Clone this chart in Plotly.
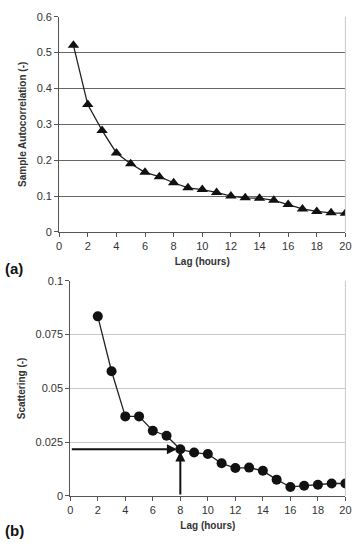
import plotly.graph_objects as go

lag_a = list(range(1, 21))
acf = [0.52, 0.355, 0.283, 0.22, 0.19, 0.166, 0.154, 0.137, 0.123, 0.118,
       0.11, 0.1, 0.095, 0.094, 0.088, 0.076, 0.064, 0.057, 0.053, 0.052]
lag_b = list(range(2, 21))
scat = [0.0835, 0.058, 0.037, 0.037, 0.0303, 0.028, 0.0217, 0.0202, 0.0195, 0.0152,
        0.013, 0.0132, 0.0117, 0.0076, 0.0042, 0.0048, 0.0052, 0.0058, 0.0058]
x_ticks = list(range(0, 21, 2))
ya_ticks = [0, 0.1, 0.2, 0.3, 0.4, 0.5, 0.6]
yb_ticks = [0, 0.025, 0.05, 0.075, 0.1]
yb_labels = ["0", "0.025", "0.05", "0.075", "0.1"]
sel_lag, sel_val = 8, 0.0217

FONT = "Liberation Sans, Arial, sans-serif"
fig = go.Figure()
fig.add_trace(go.Scatter(x=lag_a, y=acf, mode="lines+markers", xaxis="x", yaxis="y",
                         line=dict(color="#222", width=1.3),
                         marker=dict(symbol="triangle-up", size=10, color="#111"),
                         showlegend=False))
fig.add_trace(go.Scatter(x=lag_b, y=scat, mode="lines+markers", xaxis="x2", yaxis="y2",
                         line=dict(color="#222", width=1.3),
                         marker=dict(symbol="circle", size=10, color="#111"),
                         showlegend=False))

axis_common = dict(showline=True, linecolor="#555", linewidth=1, ticks="outside",
                   ticklen=4, tickcolor="#555", zeroline=False,
                   tickfont=dict(family=FONT, size=11, color="#333"))
fig.update_layout(
    width=362, height=546, margin=dict(l=0, r=0, t=0, b=0),
    paper_bgcolor="white", plot_bgcolor="white",
    font=dict(family=FONT),
    xaxis=dict(domain=[0.159, 0.970], range=[0, 20], tickvals=x_ticks, showgrid=False,
               anchor="y", title=dict(text="<b>Lag (hours)</b>", font=dict(size=10, color="#333"), standoff=6),
               **axis_common),
    yaxis=dict(domain=[0.577, 0.980], range=[0, 0.6], tickvals=ya_ticks, showgrid=True,
               gridcolor="#666", gridwidth=1, anchor="x",
               title=dict(text="<b>Sample Autocorrelation (-)</b>", font=dict(size=10, color="#333"), standoff=8),
               **axis_common),
    xaxis2=dict(domain=[0.1906, 0.970], range=[0, 20], tickvals=x_ticks, showgrid=False,
                anchor="y2", title=dict(text="<b>Lag (hours)</b>", font=dict(size=10, color="#333"), standoff=6),
                **axis_common),
    yaxis2=dict(domain=[0.0824, 0.4853], range=[0, 0.1], tickvals=yb_ticks, ticktext=yb_labels,
                showgrid=True, gridcolor="#c8c8c8", gridwidth=1, anchor="x2",
                title=dict(text="<b>Scattering (-)</b>", font=dict(size=10, color="#333"), standoff=8),
                **axis_common),
)
# light right borders
fig.add_shape(type="line", xref="x domain", yref="y domain", x0=1, x1=1, y0=0, y1=1,
              line=dict(color="#c8c8c8", width=1))
fig.add_shape(type="line", xref="x2 domain", yref="y2 domain", x0=1, x1=1, y0=0, y1=1,
              line=dict(color="#c8c8c8", width=1))
# arrows
fig.add_annotation(x=sel_lag - 0.25, y=sel_val, ax=0, ay=sel_val, xref="x2", yref="y2",
                   axref="x2", ayref="y2", showarrow=True, arrowhead=2, arrowsize=1,
                   arrowwidth=2, arrowcolor="#111", text="")
fig.add_annotation(x=sel_lag, y=sel_val - 0.001, ax=sel_lag, ay=0, xref="x2", yref="y2",
                   axref="x2", ayref="y2", showarrow=True, arrowhead=2, arrowsize=1,
                   arrowwidth=2, arrowcolor="#111", text="")
# panel labels
fig.add_annotation(x=0.0, y=1 - 268 / 546, xref="paper", yref="paper", text="<b>(a)</b>",
                   showarrow=False, xanchor="left", yanchor="middle",
                   font=dict(size=15, color="#111", family=FONT))
fig.add_annotation(x=0.0, y=1 - 536 / 546, xref="paper", yref="paper", text="<b>(b)</b>",
                   showarrow=False, xanchor="left", yanchor="middle",
                   font=dict(size=15, color="#111", family=FONT))
fig.write_html("out.html")
